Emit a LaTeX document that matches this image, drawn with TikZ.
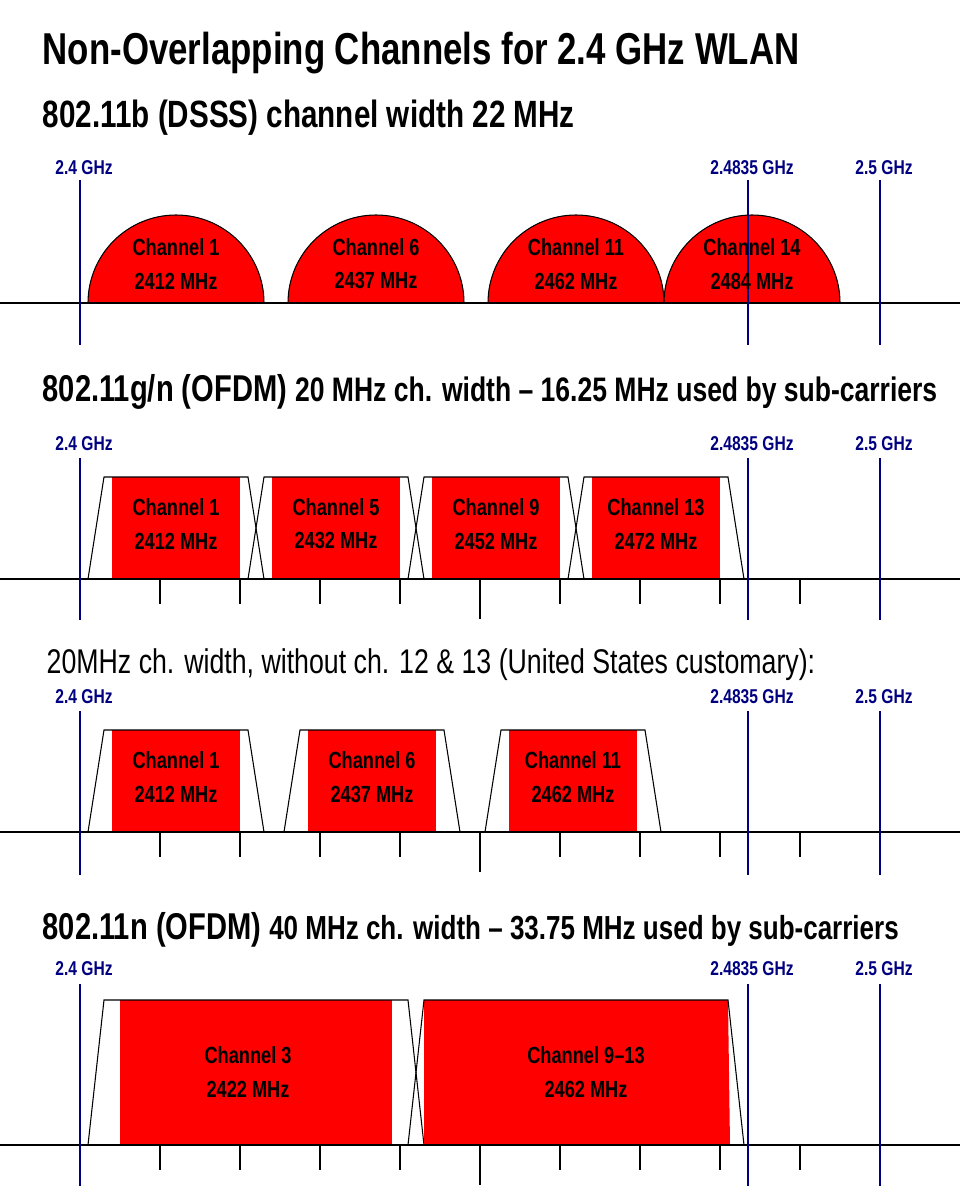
\documentclass[tikz,border=0pt]{standalone}
\usepackage{fontspec}
\setmainfont{Liberation Sans}[FakeStretch=0.78]
\begin{document}
\begin{tikzpicture}[x=0.75pt,y=-0.75pt,
  glab/.style={text=blue!50!black,font=\bfseries\fontsize{15}{17}\selectfont,anchor=base},
  chlab/.style={font=\bfseries\fontsize{17.5}{25}\selectfont,align=center},
  gline/.style={draw=blue!50!black,line width=1pt},
  base/.style={draw=black,line width=1pt},
  trap/.style={draw=black,line width=0.8pt}]
\useasboundingbox (0,0) rectangle (960,1186);
\node[anchor=base west,font=\bfseries\fontsize{33.5}{38}\selectfont] (title) at (38,64) {Non-Overlapping Channels for 2.4 GHz WLAN};
\node[anchor=base west,font=\bfseries\fontsize{28.5}{32}\selectfont] (h1) at (38,127) {802.11b (DSSS) channel width 22 MHz};
\node[anchor=base west,font=\bfseries\fontsize{28}{32}\selectfont] (h2) at (38,401) {802.11g/n (OFDM) {\fontsize{25.5}{28}\selectfont 20 MHz ch. width -- 16.25 MHz used by sub-carriers}};
\node[anchor=base west,font=\fontsize{25.7}{30}\selectfont] (h3) at (42,673) {20MHz ch. width, without ch. 12 \& 13 (United States customary):};
\node[anchor=base west,font=\bfseries\fontsize{28}{32}\selectfont] (h4) at (38,939) {802.11n (OFDM) {\fontsize{25}{28}\selectfont 40 MHz ch. width -- 33.75 MHz used by sub-carriers}};
\foreach \ly in {174, 450, 703, 975}{
  \foreach \xx/\tt in {84/2.4 GHz, 752/2.4835 GHz, 884/2.5 GHz}{
    \node[glab] at (\xx,\ly) {\tt};
  }
}
\newcommand\glines[2]{\foreach \xx in {80,748,880}{\draw[gline] (\xx,#1) -- (\xx,#2);}}
\newcommand\ticks[1]{%
  \foreach \xx in {160,240,320,400,560,640,720,800}{\draw[line width=0.8pt] (\xx,#1) -- (\xx,#1+25);}
  \draw[line width=0.8pt] (480,#1) -- (480,#1+40);}
% Section 1
\foreach \c/\n/\f in {176/1/2412,376/6/2437,576/11/2462,752/14/2484}{
  \filldraw[fill=red,draw=black,line width=0.8pt] (\c-88,303) arc[start angle=180,end angle=0,x radius=88,y radius=-88] -- cycle;
}
\draw[base] (0,303) -- (960,303);
\glines{180}{345}
\foreach \c/\n/\f in {176/1/2412,376/6/2437,576/11/2462,752/14/2484}{
  \node[chlab] at (\c,264) {Channel \n\\\f{} MHz};
}
% Section 2
\foreach \c/\n/\f in {176/1/2412,336/5/2432,496/9/2452,656/13/2472}{
  \fill[red] (\c-64,477) rectangle (\c+64,579);
  \draw[trap] (\c-88,579) -- (\c-72,477) -- (\c+72,477) -- (\c+88,579);
  \node[chlab] at (\c,524) {Channel \n\\\f{} MHz};
}
\draw[base] (0,579) -- (960,579);
\ticks{579}
\glines{458}{620}
% Section 3
\foreach \c/\n/\f in {176/1/2412,372/6/2437,573/11/2462}{
  \fill[red] (\c-64,730) rectangle (\c+64,832);
  \draw[trap] (\c-88,832) -- (\c-72,730) -- (\c+72,730) -- (\c+88,832);
  \node[chlab] at (\c,777) {Channel \n\\\f{} MHz};
}
\draw[base] (0,832) -- (960,832);
\ticks{832}
\glines{711}{875}
% Section 4
\fill[red] (120,1000) rectangle (392,1145);
\draw[trap] (88,1145) -- (104,1000) -- (408,1000) -- (424,1145);
\node[chlab] at (248,1072) {Channel 3\\2422 MHz};
\fill[red] (424,1000) -- (728,1000) -- (730,1145) -- (424,1145) -- cycle;
\draw[trap] (408,1145) -- (424,1000) -- (728,1000) -- (744,1145);
\node[chlab] at (586,1072) {Channel 9--13\\2462 MHz};
\draw[base] (0,1145) -- (960,1145);
\ticks{1145}
\glines{984}{1186}
\end{tikzpicture}
\end{document}
